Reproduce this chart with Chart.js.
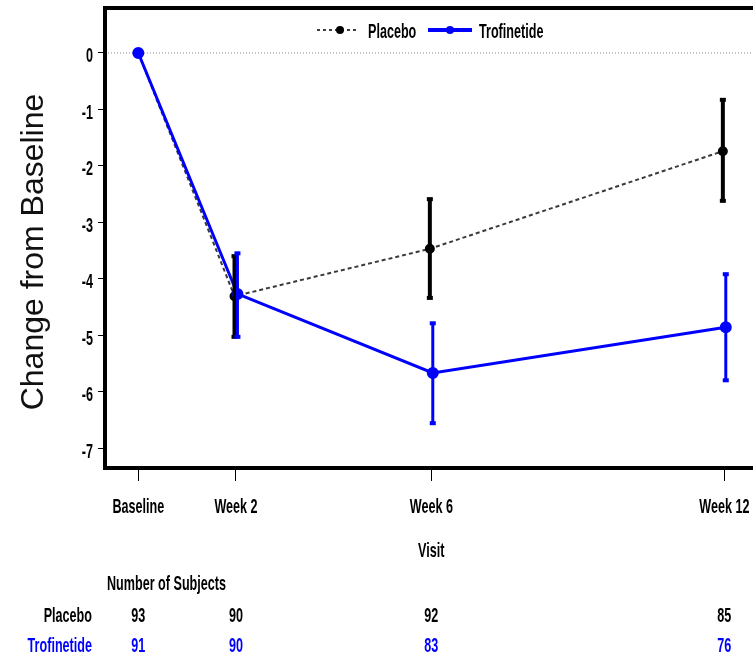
<!DOCTYPE html>
<html>
<head>
<meta charset="utf-8">
<script src="https://cdn.jsdelivr.net/npm/chart.js@4.4.1/dist/chart.umd.min.js"></script>
<style>
  html, body { margin: 0; padding: 0; background: #fff; overflow: hidden; }
  #wrap { width: 800px; height: 656px; }
</style>
</head>
<body>
<div id="wrap"><canvas id="chart" width="800" height="656"></canvas></div>
<script>
// Visits (weeks from baseline) and their labels
const visitWeeks = [0, 2, 6, 12];
const visitLabels = ['Baseline', 'Week 2', 'Week 6', 'Week 12'];
const yTicks = [0, -1, -2, -3, -4, -5, -6, -7];

// Mean change from baseline and error bar ends
const placeboMean = [0, -4.31, -3.47, -1.74];
const placeboLow  = [0, -5.03, -4.34, -2.62];
const placeboHigh = [0, -3.60, -2.59, -0.83];

const trofMean = [0, -4.27, -5.67, -4.86];
const trofLow  = [0, -5.03, -6.56, -5.80];
const trofHigh = [0, -3.55, -4.79, -3.92];

// Number of subjects per visit
const placeboN = [93, 90, 92, 85];
const trofN    = [91, 90, 83, 76];

const BLUE = '#0000ff';
const DODGE = 0.03;  // small horizontal shift so the two groups don't overlap
const SQUEEZE = 0.6; // labels in the original are a very condensed bold face

function points(means, shift) {
    return visitWeeks.map((w, i) => ({ x: w + (i === 0 ? 0 : shift), y: means[i] }));
}

const placeboDs = {
    label: 'Placebo',
    data: points(placeboMean, -DODGE),
    order: 1,
    borderColor: '#3a3a3a',
    borderWidth: 2,
    borderDash: [4, 3],
    pointRadius: 4,
    pointBackgroundColor: '#000',
    pointBorderColor: '#000',
    errLow: placeboLow,
    errHigh: placeboHigh,
    errColor: '#000',
    errWidth: 4
};

const trofDs = {
    label: 'Trofinetide',
    data: points(trofMean, DODGE),
    order: 0, // drawn on top of placebo
    borderColor: BLUE,
    borderWidth: 3,
    pointRadius: 4.5,
    pointBackgroundColor: BLUE,
    pointBorderColor: BLUE,
    errLow: trofLow,
    errHigh: trofHigh,
    errColor: BLUE,
    errWidth: 3
};

// condensed bold label, y is the text baseline
function label(ctx, text, x, y, align, color) {
    ctx.save();
    ctx.translate(x, y);
    ctx.scale(SQUEEZE, 1);
    ctx.font = 'bold 21px "Liberation Sans", Arial, sans-serif';
    ctx.fillStyle = color || '#000';
    ctx.textAlign = align;
    ctx.textBaseline = 'alphabetic';
    ctx.fillText(text, 0, 0);
    ctx.restore();
}

const extrasPlugin = {
    id: 'extras',
    beforeDatasetsDraw(chart) {
        // dotted reference line at zero
        const { ctx, chartArea, scales: { y } } = chart;
        const y0 = y.getPixelForValue(0);
        ctx.save();
        ctx.strokeStyle = '#8c8c8c';
        ctx.lineWidth = 1;
        ctx.setLineDash([1, 2]);
        ctx.beginPath();
        ctx.moveTo(chartArea.left, y0);
        ctx.lineTo(chartArea.right, y0);
        ctx.stroke();
        ctx.restore();
    },
    afterDatasetsDraw(chart) {
        // error bars with small square caps
        const { ctx, scales: { x, y } } = chart;
        ctx.save();
        chart.data.datasets.forEach(ds => {
            ds.data.forEach((p, i) => {
                if (ds.errLow[i] === ds.errHigh[i]) return;
                const px = x.getPixelForValue(p.x);
                const yLo = y.getPixelForValue(ds.errLow[i]);
                const yHi = y.getPixelForValue(ds.errHigh[i]);
                ctx.strokeStyle = ds.errColor;
                ctx.fillStyle = ds.errColor;
                ctx.lineWidth = ds.errWidth;
                ctx.beginPath();
                ctx.moveTo(px, yLo);
                ctx.lineTo(px, yHi);
                ctx.stroke();
                ctx.fillRect(px - 3, yHi - 2, 6, 4);
                ctx.fillRect(px - 3, yLo - 2, 6, 4);
            });
        });
        ctx.restore();
    },
    afterDraw(chart) {
        const { ctx, chartArea, scales: { x, y } } = chart;
        ctx.save();

        // frame
        ctx.strokeStyle = '#000';
        ctx.lineWidth = 4;
        ctx.strokeRect(chartArea.left, chartArea.top, chartArea.right - chartArea.left, chartArea.bottom - chartArea.top);

        // tick labels
        x.ticks.forEach((t, i) => label(ctx, visitLabels[i], x.getPixelForValue(t.value), 513, 'center'));
        y.ticks.forEach(t => label(ctx, String(t.value), 93, y.getPixelForValue(t.value) + 9.5, 'right'));

        // legend inside the plot
        const ly = 30;
        ctx.lineWidth = 1.5;
        ctx.strokeStyle = '#000';
        ctx.setLineDash([3, 3]);
        ctx.beginPath(); ctx.moveTo(317, ly); ctx.lineTo(358, ly); ctx.stroke();
        ctx.setLineDash([]);
        ctx.fillStyle = '#000';
        ctx.beginPath(); ctx.arc(340, ly, 4, 0, Math.PI * 2); ctx.fill();
        label(ctx, placeboDs.label, 368, ly + 8, 'left');

        ctx.lineWidth = 4;
        ctx.strokeStyle = BLUE;
        ctx.beginPath(); ctx.moveTo(428, ly); ctx.lineTo(472, ly); ctx.stroke();
        ctx.fillStyle = BLUE;
        ctx.beginPath(); ctx.arc(450, ly, 4, 0, Math.PI * 2); ctx.fill();
        label(ctx, trofDs.label, 479, ly + 8, 'left');

        // y axis title
        ctx.save();
        ctx.translate(43, 252);
        ctx.rotate(-Math.PI / 2);
        ctx.font = '32px "Liberation Sans", Arial, sans-serif';
        ctx.fillStyle = '#111';
        ctx.textAlign = 'center';
        ctx.textBaseline = 'alphabetic';
        ctx.fillText('Change from Baseline', 0, 0);
        ctx.restore();

        // x axis title
        label(ctx, 'Visit', x.getPixelForValue(6), 557, 'center');

        // number of subjects table
        label(ctx, 'Number of Subjects', 107, 590, 'left');
        label(ctx, placeboDs.label, 92, 622, 'right');
        label(ctx, trofDs.label, 92, 652, 'right', BLUE);
        visitWeeks.forEach((w, i) => {
            const px = x.getPixelForValue(w);
            label(ctx, String(placeboN[i]), px, 622, 'center');
            label(ctx, String(trofN[i]), px, 652, 'center', BLUE);
        });
        ctx.restore();
    }
};

new Chart(document.getElementById('chart'), {
    type: 'line',
    data: { datasets: [placeboDs, trofDs] },
    options: {
        responsive: false,
        animation: false,
        layout: { padding: { top: 8, right: 10, left: 0, bottom: 0 } },
        plugins: { legend: { display: false }, tooltip: { enabled: false } },
        scales: {
            x: {
                type: 'linear',
                min: -0.682,
                max: 13.345,
                afterBuildTicks: s => { s.ticks = visitWeeks.map(v => ({ value: v })); },
                afterFit: s => { s.height = 188; },
                ticks: { display: false },
                grid: { drawOnChartArea: false, tickLength: 13, tickColor: '#000', lineWidth: 1 },
                border: { display: false }
            },
            y: {
                min: -7.354,
                max: 0.797,
                afterBuildTicks: s => { s.ticks = yTicks.map(v => ({ value: v })); },
                afterFit: s => { s.width = 105; },
                ticks: { display: false },
                grid: { drawOnChartArea: false, tickLength: 7, tickColor: '#000', lineWidth: 1 },
                border: { display: false }
            }
        }
    },
    plugins: [extrasPlugin]
});
</script>
</body>
</html>
